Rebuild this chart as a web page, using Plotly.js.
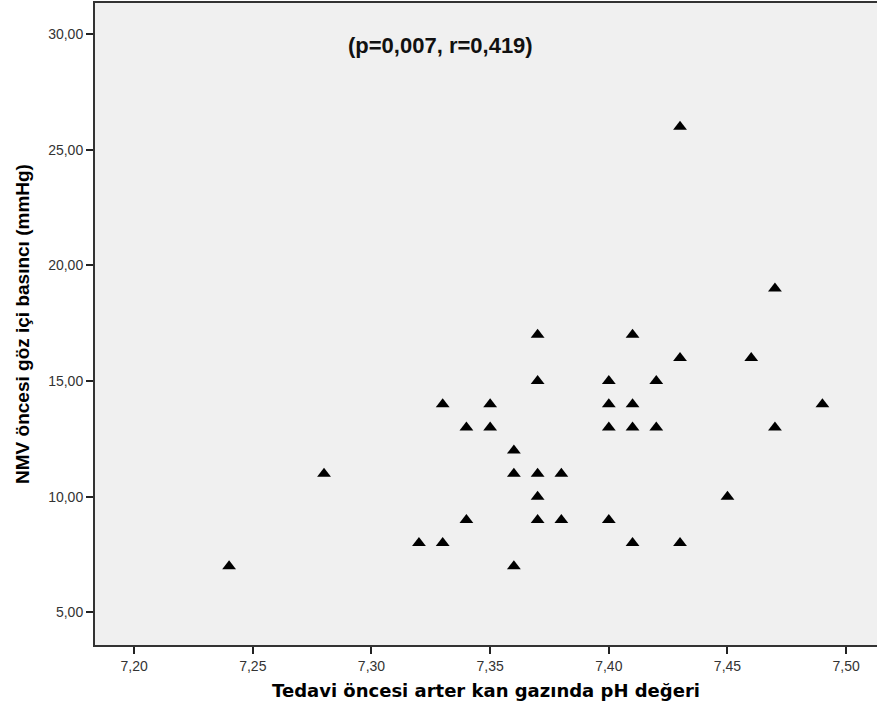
<!DOCTYPE html>
<html>
<head>
<meta charset="utf-8">
<script src="https://cdn.plot.ly/plotly-3.0.1.min.js"></script>
<style>html,body{margin:0;padding:0;background:#fff;}#chart{width:877px;height:716px;}</style>
</head>
<body>
<div id="chart"></div>
<script>
const phValues = [7.24, 7.28, 7.32, 7.33, 7.33, 7.34, 7.34, 7.35, 7.35, 7.36, 7.36, 7.36, 7.37, 7.37, 7.37, 7.37, 7.37, 7.38, 7.38, 7.40, 7.40, 7.40, 7.40, 7.41, 7.41, 7.41, 7.41, 7.42, 7.42, 7.43, 7.43, 7.43, 7.45, 7.46, 7.47, 7.47, 7.49];
const iopValues = [7, 11, 8, 8, 14, 9, 13, 14, 13, 12, 11, 7, 17, 15, 11, 10, 9, 11, 9, 15, 14, 13, 9, 17, 14, 13, 8, 15, 13, 26, 16, 8, 10, 16, 19, 13, 14];
const xTicks = [7.20, 7.25, 7.30, 7.35, 7.40, 7.45, 7.50];
const yTicks = [5, 10, 15, 20, 25, 30];
const statText = "(p=0,007, r=0,419)";
const xTitle = "Tedavi öncesi arter kan gazında pH değeri";
const yTitle = "NMV öncesi göz içi basıncı (mmHg)";

const trace = {
  x: phValues, y: iopValues, type: 'scatter', mode: 'markers',
  marker: {symbol: 'triangle-up', size: 12, color: '#000'},
  hoverinfo: 'none', cliponaxis: false
};
const layout = {
  width: 877, height: 716,
  margin: {l: 95, r: 0, t: 3, b: 71},
  paper_bgcolor: '#ffffff', plot_bgcolor: '#f0f0f0',
  separators: ', ',
  showlegend: false,
  font: {family: 'Liberation Sans, Arial, sans-serif', color: '#333'},
  xaxis: {
    range: [7.1835, 7.513], tickmode: 'array', tickvals: xTicks, tickformat: '.2f',
    ticks: 'outside', ticklen: 7, tickwidth: 2, tickcolor: '#222',
    showline: true, linecolor: '#333', linewidth: 2, mirror: true,
    showgrid: false, zeroline: false,
    tickfont: {size: 14, color: '#333', family: 'Liberation Sans, Arial, sans-serif'},
    title: {text: xTitle, font: {size: 18, color: '#000', family: 'DejaVu Sans, sans-serif', weight: 'bold'}, standoff: 12}
  },
  yaxis: {
    range: [3.59, 31.35], tickmode: 'array', tickvals: yTicks, tickformat: '.2f',
    ticks: 'outside', ticklen: 7, tickwidth: 2, tickcolor: '#222',
    showline: true, linecolor: '#333', linewidth: 2,
    showgrid: false, zeroline: false,
    tickfont: {size: 14, color: '#333', family: 'Liberation Sans, Arial, sans-serif'},
    title: {text: yTitle, font: {size: 19, color: '#000', family: 'Liberation Sans, Arial, sans-serif', weight: 'bold'}, standoff: 14}
  },
  annotations: [{
    text: statText, xref: 'x', yref: 'y', x: 7.329, y: 29.5, showarrow: false,
    font: {size: 22, color: '#111', family: 'Liberation Sans, Arial, sans-serif', weight: 'bold'}
  }]
};
Plotly.newPlot('chart', [trace], layout, {displayModeBar: false});
</script>
</body>
</html>
